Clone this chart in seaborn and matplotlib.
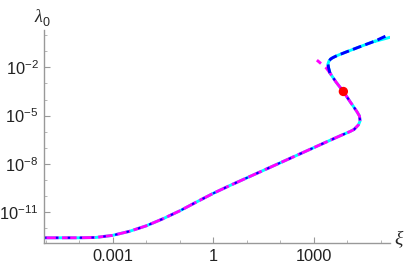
import matplotlib
matplotlib.use("Agg")
import matplotlib.pyplot as plt
import numpy as np
import pandas as pd
import seaborn as sns
from matplotlib.ticker import FixedLocator, NullFormatter

# values, as log10(xi), log10(lambda_0)
# lower branch up to the fold and back up to where the blue branch splits off
low_logxi = [-5.05, -4.0, -3.5, -3.0, -2.5, -2.0, -1.5, -1.0, -0.5, 0.0,
             0.5, 1.0, 1.5, 2.0, 2.5, 3.0, 3.5, 3.8, 4.09, 4.21, 4.34, 4.39,
             4.37, 4.30, 4.19, 4.09, 3.89, 3.67, 3.49]
low_loglam = [-12.60, -12.60, -12.58, -12.45, -12.20, -11.86, -11.42, -10.93, -10.38, -9.84,
              -9.35, -8.88, -8.41, -7.94, -7.47, -7.00, -6.53, -6.25, -5.99, -5.86, -5.58, -5.33,
              -5.02, -4.77, -4.43, -4.13, -3.50, -2.91, -2.35]

# upper branch (blue / cyan), starting where it leaves the magenta curve
up_logxi = [3.49, 3.45, 3.43, 3.46, 3.51, 3.58, 3.70, 3.94, 4.39, 4.84, 5.22]
up_loglam = [-2.35, -2.04, -1.79, -1.61, -1.48, -1.39, -1.27, -1.07, -0.71, -0.36, 0.01]
cyan_end_logxi = [4.84, 5.28]
cyan_end_loglam = [-0.38, -0.13]

# magenta tail past the split
tail_logxi = [3.49, 3.39, 3.22, 3.10]
tail_loglam = [-2.35, -2.06, -1.76, -1.55]

# marked point
dot_logxi = [3.89]
dot_loglam = [-3.50]

xticks = [1e-3, 1, 1e3]
xticklabels = ["0.001", "1", "1000"]
yticks = [1e-11, 1e-8, 1e-5, 1e-2]
yticklabels = ["$10^{-11}$", "$10^{-8}$", "$10^{-5}$", "$10^{-2}$"]


def frame(lx, ly):
    return pd.DataFrame({"xi": 10.0 ** np.array(lx), "lam": 10.0 ** np.array(ly)})


low = frame(low_logxi, low_loglam)
up = frame(up_logxi, up_loglam)
cyan_up = pd.concat([frame(up_logxi[:-1], up_loglam[:-1]),
                     frame(cyan_end_logxi, cyan_end_loglam)], ignore_index=True)
tail = frame(tail_logxi, tail_loglam)
dot = frame(dot_logxi, dot_loglam)

sns.set_style("ticks")
plt.rcParams["font.family"] = ["Liberation Sans", "DejaVu Sans"]
plt.rcParams["mathtext.default"] = "regular"

fig = plt.figure(figsize=(4.07, 2.71), dpi=100)
ax = fig.add_axes([0.108, 0.103, 0.850, 0.786])
ax.set_xscale("log")
ax.set_yscale("log")

lw = 2.1
line = dict(x="xi", y="lam", sort=False, estimator=None, ax=ax)
sns.lineplot(data=low, color="#00ffff", lw=lw, **line)
sns.lineplot(data=cyan_up, color="#00ffff", lw=lw, **line)
sns.lineplot(data=low, color="#ff00ff", lw=lw, linestyle=(0, (5, 1.2)), **line)
sns.lineplot(data=tail, color="#ff00ff", lw=lw, linestyle=(0, (2.5, 2)), **line)
sns.lineplot(data=low, color="#0000ff", lw=1.5, linestyle=(0, (1.2, 4.5)), **line)
sns.lineplot(data=up, color="#0000ff", lw=lw, linestyle=(0, (3, 1.5)), **line)
sns.scatterplot(data=dot, x="xi", y="lam", color="red", s=45, edgecolor="none", zorder=5, ax=ax)

ax.set_xlim(10 ** -5.05, 10 ** 5.28)
ax.set_ylim(10 ** -12.93, 10 ** 0.32)

ax.xaxis.set_major_locator(FixedLocator(xticks))
ax.set_xticklabels(xticklabels)
ax.xaxis.set_minor_locator(FixedLocator([10.0 ** k for k in range(-5, 6)]))
ax.xaxis.set_minor_formatter(NullFormatter())
ax.yaxis.set_major_locator(FixedLocator(yticks))
ax.set_yticklabels(yticklabels)
ax.yaxis.set_minor_locator(FixedLocator([10.0 ** k for k in range(-13, 1)]))
ax.yaxis.set_minor_formatter(NullFormatter())

ax.set_xlabel("")
ax.set_ylabel("")
for side in ["top", "right"]:
    ax.spines[side].set_visible(False)
for side in ["left", "bottom"]:
    ax.spines[side].set_color("#999999")
    ax.spines[side].set_linewidth(1.0)
ax.tick_params(which="major", direction="in", length=4, width=0.8, color="#999999",
               labelsize=11.8, labelcolor="#222222", pad=4)
ax.tick_params(which="minor", direction="in", length=2, width=0.6, color="#aaaaaa")

# axis labels at the ends of the axes
ax.text(-0.005, 1.058, "λ", transform=ax.transAxes, ha="right", va="center",
        fontsize=13, family="Liberation Serif", style="italic")
ax.text(-0.003, 1.035, "0", transform=ax.transAxes, ha="left", va="center", fontsize=9)
ax.text(1.025, 0.02, "ξ", transform=ax.transAxes, ha="center", va="center",
        fontsize=14, family="Liberation Serif", style="italic")

fig.savefig("out.png", dpi=100)
